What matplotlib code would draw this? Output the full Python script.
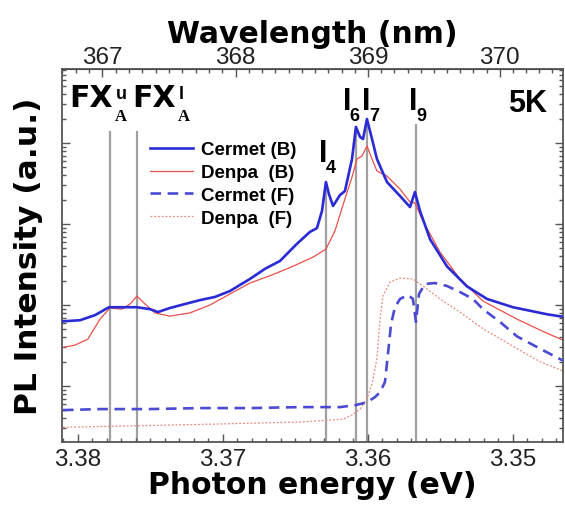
import matplotlib
matplotlib.use('Agg')
import matplotlib.pyplot as plt
import numpy as np
from matplotlib.ticker import MultipleLocator, LogLocator, NullFormatter

plt.rcParams['font.family'] = ['Liberation Sans', 'DejaVu Sans']

# Cermet (B) - blue solid
cermet_b_E = [3.38103, 3.37986, 3.37883, 3.37786, 3.3771, 3.37593, 3.37503, 3.37448,
              3.37366, 3.37262, 3.37159, 3.37055, 3.36952, 3.36814, 3.3671, 3.36607,
              3.3649, 3.364, 3.36352, 3.36317, 3.3629, 3.36269, 3.36241, 3.36193,
              3.36159, 3.3611, 3.36083, 3.36055, 3.36034, 3.36007, 3.35972, 3.35938,
              3.35869, 3.35779, 3.3571, 3.35676, 3.35641, 3.35572, 3.35455, 3.35317,
              3.35179, 3.35, 3.34766, 3.34641]
cermet_b_I = [6.3, 6.5, 7.5, 9.4, 9.4, 9.4, 8.9, 8.2,
              9.2, 10.3, 11.5, 12.6, 14.9, 21, 28, 35,
              57, 80, 89, 145, 330, 234, 167, 228,
              255, 635, 1580, 1190, 1120, 1980, 1120, 635,
              330, 222, 162, 248, 145, 65, 30, 17,
              11.9, 9.4, 7.7, 7.1]

# Denpa (B) - red solid
denpa_b_E = [3.38103, 3.38021, 3.37931, 3.37848, 3.37779, 3.37697, 3.37641, 3.37593,
             3.37545, 3.37469, 3.37366, 3.37228, 3.3709, 3.36952, 3.36814, 3.36676,
             3.36538, 3.36379, 3.3629, 3.36228, 3.36159, 3.3611, 3.36076, 3.36041,
             3.36007, 3.35972, 3.35938, 3.35869, 3.35779, 3.3571, 3.35676, 3.35621,
             3.35503, 3.35366, 3.35207, 3.34972, 3.34779, 3.34641]
denpa_b_I = [3.0, 3.2, 3.8, 6.7, 9.2, 8.9, 10.3, 12.9,
             10.6, 8.0, 7.3, 8.0, 10, 13.7, 18.7, 23,
             29, 39, 49, 82, 204, 380, 635, 690,
             920, 635, 451, 391, 270, 187, 182, 109,
             45, 21, 11.2, 6.7, 4.6, 3.6]

# Cermet (F) - blue dashed
cermet_f_E = [3.38103, 3.37848, 3.37503, 3.37159, 3.36814, 3.3647, 3.36193, 3.3609,
              3.36007, 3.35952, 3.35917, 3.35883, 3.35862, 3.35841, 3.35814, 3.35779,
              3.35724, 3.3569, 3.35669, 3.35648, 3.35607, 3.35538, 3.35455, 3.35366,
              3.35276, 3.35207, 3.3509, 3.34972, 3.34814, 3.34641]
cermet_f_I = [0.505, 0.52, 0.52, 0.535, 0.535, 0.55, 0.55, 0.58,
              0.63, 0.73, 0.84, 1.12, 2.5, 5.8, 9.4, 11.9,
              13.3, 11.9, 6.2, 13.7, 18.2, 18.7, 17.2, 14.5,
              11.9, 8.9, 6.2, 4.1, 2.9, 2.0]

# Denpa (F) - red dotted
denpa_f_E = [3.38103, 3.37710, 3.37041, 3.3647, 3.36172, 3.3611, 3.36055, 3.36007,
             3.35972, 3.35938, 3.35917, 3.35897, 3.35848, 3.35779, 3.3569, 3.35621,
             3.35503, 3.35366, 3.35207, 3.34972, 3.34814, 3.34641]
denpa_f_I = [0.31, 0.32, 0.34, 0.36, 0.39, 0.44, 0.52, 0.69,
             1.06, 2.2, 6.7, 12.9, 19.2, 21.5, 21, 17.2,
             11.9, 8.2, 5.1, 2.9, 2.0, 1.5]

# marker lines (FX^u_A, FX^l_A, I4, I6, I7, I9)
line_E = [3.3778, 3.3759, 3.3629, 3.3608, 3.3601, 3.3567]
line_top = [1410, 1410, 330, 1580, 1980, 1720]

# line labels: main text, subscript, superscript
label_main = ['FX', 'FX', 'I', 'I', 'I', 'I']
label_sub = ['A', 'A', '4', '6', '7', '9']
label_sup = ['u', 'l', '', '', '', '']
label_E = [3.38060, 3.37626, 3.36338, 3.36175, 3.36040, 3.35715]
label_I = [2860, 2860, 600, 2630, 2630, 2630]

fig = plt.figure(figsize=(5.65, 5.06), dpi=100)
ax = fig.add_axes([62/565, 1 - 443/506, 501/565, 373/506])

ax.vlines(line_E, 0.1, line_top, colors='#a0a0a0', linewidth=1.6, zorder=1)

ax.plot(cermet_b_E, cermet_b_I, color='#2a2ad6', linewidth=1.9, label='Cermet (B)', zorder=3)
ax.plot(denpa_b_E, denpa_b_I, color='#e8504a', linewidth=0.9, label='Denpa  (B)', zorder=2)
ax.plot(cermet_f_E, cermet_f_I, color='#4a4ad2', linewidth=1.9, dashes=(4, 2.5),
        label='Cermet (F)', zorder=3)
ax.plot(denpa_f_E, denpa_f_I, color='#e88878', linewidth=0.9, dashes=(1.5, 1.5),
        label='Denpa  (F)', zorder=2)

ax.set_yscale('log')
ax.set_ylim(0.204, 8200)
ax.set_xlim(3.3811, 3.34655)

ax.xaxis.set_major_locator(MultipleLocator(0.01))
ax.xaxis.set_minor_locator(MultipleLocator(0.001))
ax.xaxis.set_major_formatter(plt.FuncFormatter(lambda v, p: '%.2f' % v))
ax.yaxis.set_major_locator(LogLocator(base=10, numticks=20))
ax.yaxis.set_minor_locator(LogLocator(base=10, subs=np.arange(2, 10), numticks=20))
ax.yaxis.set_minor_formatter(NullFormatter())
ax.tick_params(which='both', direction='in', right=True, top=False, labelleft=False,
               labelsize=17.5, width=1, colors='#555555', labelcolor='#222222')
ax.tick_params(which='major', length=6, pad=4)
ax.tick_params(which='minor', length=3)
for s in ax.spines.values():
    s.set_color('#555555')
    s.set_linewidth(1.3)

secax = ax.secondary_xaxis('top', functions=(lambda e: 1239.84 / np.asarray(e),
                                              lambda w: 1239.84 / np.asarray(w)))
secax.set_xticks([367, 368, 369, 370])
secax.xaxis.set_minor_locator(MultipleLocator(0.1))
secax.tick_params(which='both', direction='in', labelsize=17.5, width=1,
                  colors='#555555', labelcolor='#222222')
secax.tick_params(which='major', length=6, pad=0.5)
secax.tick_params(which='minor', length=3)
secax.set_xlabel('Wavelength (nm)', fontsize=21.5, fontweight='bold',
                 family='DejaVu Sans', labelpad=3)

ax.set_xlabel('Photon energy (eV)', fontsize=21.5, fontweight='bold',
              family='DejaVu Sans', labelpad=0)
ax.set_ylabel('PL Intensity (a.u.)', fontsize=22.5, fontweight='bold',
              family='DejaVu Sans', labelpad=14)

for m, sb, sp, e, i in zip(label_main, label_sub, label_sup, label_E, label_I):
    if m == 'FX':
        ax.text(e, i, m, fontsize=21.5, fontweight='bold', family='DejaVu Sans',
                ha='left', va='baseline', zorder=5)
        ax.annotate(sb, (e, i), xytext=(33, -10), textcoords='offset points',
                    fontsize=12, fontweight='bold', family='Liberation Serif',
                    ha='left', va='baseline', zorder=5)
        ax.annotate(sp, (e, i), xytext=(33.5, 5.5), textcoords='offset points',
                    fontsize=13, fontweight='bold', ha='left', va='baseline', zorder=5)
    else:
        ax.text(e, i, m, fontsize=22, fontweight='bold', ha='left', va='baseline', zorder=5)
        ax.annotate(sb, (e, i), xytext=(5, -8), textcoords='offset points',
                    fontsize=13, fontweight='bold', ha='left', va='baseline', zorder=5)
ax.text(3.34766, 2480, '5K', fontsize=22, fontweight='bold', ha='right', va='baseline')

ax.legend(loc='upper left', bbox_to_anchor=(0.1756, 0.806), frameon=False,
          borderpad=0, borderaxespad=0, handlelength=2.3, handletextpad=0.4,
          labelspacing=0.3, prop={'weight': 'bold', 'size': 13.5})

fig.savefig('out.png', dpi=100)
